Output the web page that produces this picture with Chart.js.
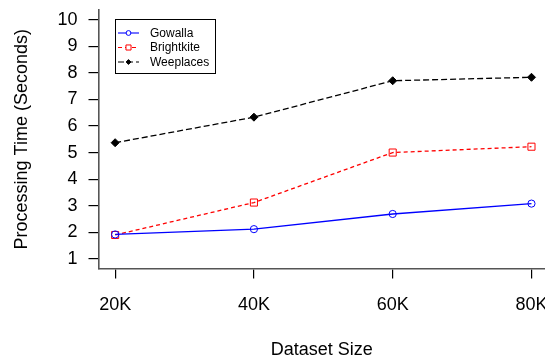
<!DOCTYPE html>
<html>
<head>
<meta charset="utf-8">
<script src="https://cdn.jsdelivr.net/npm/chart.js@4/dist/chart.umd.min.js"></script>
<style>
  html, body { margin: 0; padding: 0; background: #fff; }
  #wrap { width: 545px; height: 361px; }
</style>
</head>
<body>
<div id="wrap"><canvas id="c" width="545" height="361"></canvas></div>
<script>
// Dataset sizes (thousands of records) and their axis labels
const sizes = [20, 40, 60, 80];
const sizeLabels = ['20K', '40K', '60K', '80K'];
const timeTicks = [1, 2, 3, 4, 5, 6, 7, 8, 9, 10];

// Processing time in seconds per dataset
const gowalla = [1.92, 2.12, 2.69, 3.08];
const brightkite = [1.9, 3.12, 5.0, 5.22];
const weeplaces = [5.37, 6.33, 7.7, 7.83];

const font = 'Arial, "Liberation Sans", sans-serif';
const toPoints = arr => arr.map((v, i) => ({ x: sizes[i], y: v }));

const series = [
  { label: 'Gowalla', data: gowalla, color: '#0000ff', style: 'circle', dash: [], fill: false, radius: 3.6 },
  { label: 'Brightkite', data: brightkite, color: '#ff0000', style: 'rect', dash: [4, 3], fill: false, radius: 5 },
  { label: 'Weeplaces', data: weeplaces, color: '#000000', style: 'rectRot', dash: [6, 3], fill: true, radius: 4 }
];

// Legend box drawn inside the plot area, base-graphics style
const boxLegend = {
  id: 'boxLegend',
  afterDatasetsDraw(chart) {
    const ctx = chart.ctx;
    const x0 = 115.5, y0 = 19.5, x1 = 215.5, y1 = 73.5;
    ctx.save();
    ctx.fillStyle = '#fff';
    ctx.fillRect(x0, y0, x1 - x0, y1 - y0);
    ctx.strokeStyle = '#000';
    ctx.lineWidth = 1;
    ctx.strokeRect(x0, y0, x1 - x0, y1 - y0);
    const rows = [33, 47.5, 62];
    chart.data.datasets.forEach((ds, i) => {
      const y = rows[i];
      ctx.strokeStyle = ds.borderColor;
      ctx.lineWidth = 1.1;
      ctx.setLineDash(ds.borderDash || []);
      ctx.beginPath();
      ctx.moveTo(118, y);
      ctx.lineTo(139, y);
      ctx.stroke();
      ctx.setLineDash([]);
      ctx.fillStyle = ds.pointStyle === 'rectRot' ? ds.borderColor : '#fff';
      ctx.strokeStyle = ds.borderColor;
      ctx.lineWidth = 1;
      Chart.helpers.drawPoint(ctx, {
        pointStyle: ds.pointStyle,
        radius: ds.pointStyle === 'rect' ? 3.6 : 2.4,
        borderWidth: 1
      }, 128.5, y);
      ctx.fillStyle = '#000';
      ctx.font = '12px ' + font;
      ctx.textAlign = 'left';
      ctx.textBaseline = 'middle';
      ctx.fillText(ds.label, 150, y + 0.5);
    });
    ctx.restore();
  }
};

new Chart(document.getElementById('c'), {
  type: 'line',
  data: {
    datasets: series.map(s => ({
      label: s.label,
      data: toPoints(s.data),
      borderColor: s.color,
      borderWidth: 1.3,
      borderDash: s.dash,
      pointStyle: s.style,
      pointRadius: s.radius,
      pointBorderWidth: 1,
      pointBorderColor: s.color,
      pointBackgroundColor: s.fill ? s.color : 'rgba(255,255,255,0)',
      tension: 0
    }))
  },
  options: {
    responsive: false,
    animation: false,
    layout: { autoPadding: false, padding: { top: 10, right: 0, left: 0, bottom: 0 } },
    plugins: {
      legend: { display: false },
      tooltip: { enabled: false }
    },
    scales: {
      x: {
        type: 'linear',
        min: 17.6,
        max: 81.95,
        afterBuildTicks: scale => { scale.ticks = sizes.map(v => ({ value: v })); },
        afterFit: scale => {
          scale.height = 92.5;
          scale.paddingLeft = 0;
          scale.paddingRight = 0;
        },
        ticks: {
          callback: v => sizeLabels[sizes.indexOf(v)],
          color: '#000',
          font: { family: font, size: 18 },
          padding: 16,
          maxRotation: 0,
          autoSkip: false
        },
        grid: {
          drawOnChartArea: false,
          drawTicks: true,
          tickLength: 10,
          tickColor: '#000',
          lineWidth: 1.2
        },
        border: { display: true, color: '#555', width: 1.6 },
        title: {
          display: true,
          text: 'Dataset Size',
          color: '#000',
          font: { family: font, size: 18 },
          padding: { top: 0, bottom: 0 }
        }
      },
      y: {
        type: 'linear',
        min: 0.64,
        max: 10.36,
        afterBuildTicks: scale => { scale.ticks = timeTicks.map(v => ({ value: v })); },
        afterFit: scale => {
          scale.width = 98.5;
          scale.paddingTop = 0;
          scale.paddingBottom = 0;
        },
        ticks: {
          color: '#000',
          font: { family: font, size: 18 },
          padding: 11,
          autoSkip: false
        },
        grid: {
          drawOnChartArea: false,
          drawTicks: true,
          tickLength: 10,
          tickColor: '#000',
          lineWidth: 1.2
        },
        border: { display: true, color: '#555', width: 1.6 },
        title: {
          display: true,
          text: 'Processing Time (Seconds)',
          color: '#000',
          font: { family: font, size: 18 },
          padding: { top: 11, bottom: 0 }
        }
      }
    }
  },
  plugins: [boxLegend]
});
</script>
</body>
</html>
